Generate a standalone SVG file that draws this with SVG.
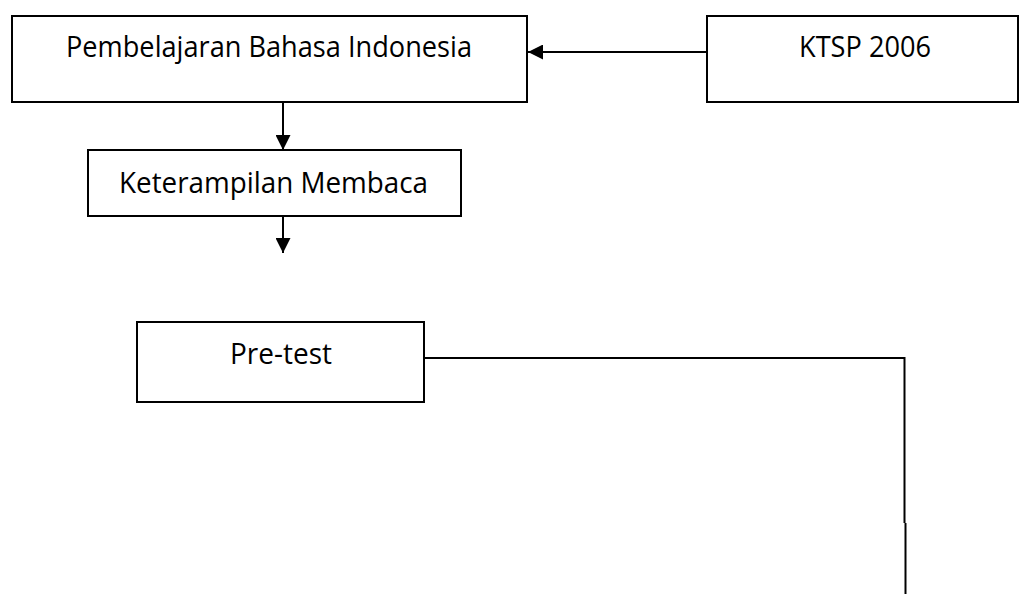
<svg xmlns="http://www.w3.org/2000/svg" width="1025" height="594" viewBox="0 0 1025 594">
<defs>
<style>
.box{fill:#fff;stroke:#000;stroke-width:2}
.lbl{font-family:"Open Sans","Lato","Liberation Sans",sans-serif;font-size:29px;fill:#000;text-anchor:middle}
.con{fill:none;stroke:#000;stroke-width:2}
</style>
<marker id="ah" markerWidth="15" markerHeight="15" refX="15" refY="7.5" orient="auto" markerUnits="userSpaceOnUse">
<path d="M0,0 L15,7.5 L0,15 Z" fill="#000"/>
</marker>
</defs>
<rect width="1025" height="594" fill="#fff"/>
<g id="connectors">
<line class="con" x1="707" y1="52" x2="528" y2="52" marker-end="url(#ah)"/>
<line class="con" x1="283" y1="102" x2="283" y2="150" marker-end="url(#ah)"/>
<line class="con" x1="283" y1="217" x2="283" y2="253" marker-end="url(#ah)"/>
<polyline class="con" points="424,358 904.5,358 904.5,523"/>
<line class="con" x1="905.5" y1="523" x2="905.5" y2="594"/>
</g>
<g id="node-pembelajaran">
<rect class="box" x="12" y="16" width="515" height="86"/>
<text class="lbl" x="269" y="57" textLength="406" lengthAdjust="spacingAndGlyphs">Pembelajaran Bahasa Indonesia</text>
</g>
<g id="node-ktsp">
<rect class="box" x="707" y="16" width="311" height="86"/>
<text class="lbl" x="865" y="57" textLength="132" lengthAdjust="spacingAndGlyphs">KTSP 2006</text>
</g>
<g id="node-keterampilan">
<rect class="box" x="88" y="150" width="373" height="66"/>
<text class="lbl" x="273.5" y="193" textLength="309" lengthAdjust="spacingAndGlyphs">Keterampilan Membaca</text>
</g>
<g id="node-pretest">
<rect class="box" x="137" y="322" width="287" height="80"/>
<text class="lbl" x="281" y="364" textLength="102" lengthAdjust="spacingAndGlyphs">Pre-test</text>
</g>
</svg>
